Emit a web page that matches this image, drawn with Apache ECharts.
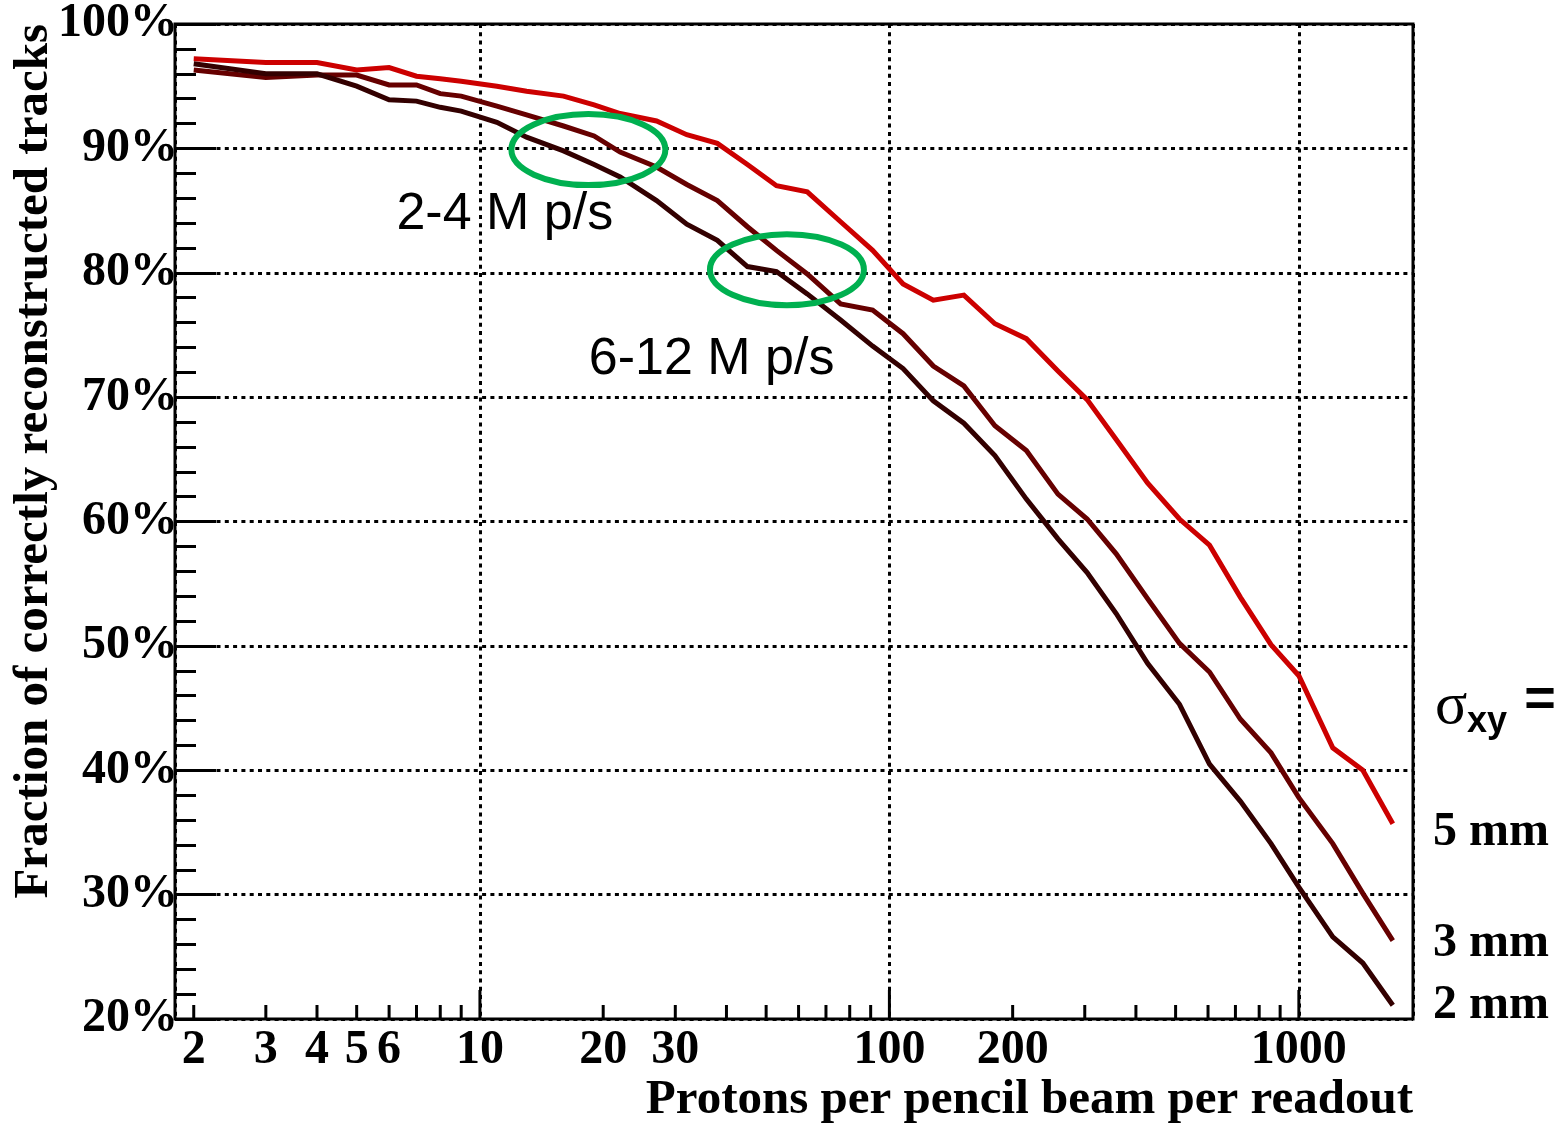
<!DOCTYPE html>
<html>
<head>
<meta charset="utf-8">
<title>Track reconstruction efficiency</title>
<script src="https://cdn.jsdelivr.net/npm/echarts@6/dist/echarts.min.js"></script>
<style>
  html, body { margin: 0; padding: 0; background: #ffffff; }
  #chart { width: 1560px; height: 1126px; }
</style>
</head>
<body>
<div id="chart"></div>
<script>
// Protons per pencil beam per readout (shared x values of all curves)
const protons = [2, 3, 4, 5, 6, 7, 8, 9, 11, 13, 16, 19, 22, 27, 32, 38, 45, 53, 63, 76,
  91, 108, 128, 152, 181, 216, 258, 304, 358, 427, 511, 605, 720, 855, 1000, 1210, 1433, 1696];

// Fraction of correctly reconstructed tracks (%) for each beam spot size
const frac5mm = [97.2, 96.9, 96.9, 96.3, 96.5, 95.8, 95.6, 95.4, 95.0, 94.6, 94.2, 93.5, 92.8, 92.2,
  91.1, 90.4, 88.7, 87.0, 86.5, 84.1, 81.8, 79.1, 77.8, 78.2, 75.9, 74.7, 72.1, 69.8, 66.6, 63.1,
  60.2, 58.1, 53.9, 50.1, 47.6, 41.8, 40.0, 35.7];
const frac3mm = [96.3, 95.7, 95.9, 95.9, 95.1, 95.1, 94.4, 94.2, 93.4, 92.7, 91.8, 91.0, 89.7, 88.5,
  87.1, 85.8, 83.7, 81.8, 79.9, 77.5, 77.0, 75.1, 72.5, 70.9, 67.7, 65.7, 62.2, 60.2, 57.4, 53.8,
  50.2, 47.9, 44.1, 41.4, 37.8, 34.1, 30.1, 26.3];
const frac2mm = [96.8, 96.0, 96.0, 95.0, 93.9, 93.8, 93.3, 93.0, 92.1, 90.9, 89.8, 88.7, 87.7, 85.8,
  83.9, 82.6, 80.5, 80.1, 78.3, 76.2, 74.1, 72.3, 69.7, 67.9, 65.3, 61.8, 58.6, 55.9, 52.6, 48.6,
  45.3, 40.5, 37.5, 34.1, 30.6, 26.6, 24.5, 21.1];

// Log-axis tick marks and labels
const xMinorTicks = [2, 3, 4, 5, 6, 7, 8, 9, 20, 30, 40, 50, 60, 70, 80, 90, 200, 300, 400, 500, 600, 700, 800, 900];
const xMajorTicks = [10, 100, 1000];
const xTickLabels = [2, 3, 4, 5, 6, 10, 20, 30, 100, 200, 1000];

// Beam rate annotations: [label, x, y%]
const rateNotes = [['2-4 M p/s', 11.5, 84.7], ['6-12 M p/s', 36.8, 73.0]];
// Highlighted working points: [x, y%]
const rateMarks = [[18.4, 89.9], [56.2, 80.25]];

// Spot size labels next to the curve ends: [label, y%]
const sizeLabels = [['5 mm', 34.95], ['3 mm', 26.1], ['2 mm', 21.1]];
const sizeColors = ['#cc0000', '#660000', '#330000'];

const SERIF = '"Liberation Serif", "Times New Roman", serif';
const SANS = '"Liberation Sans", Arial, sans-serif';
const dotted = { color: '#000', width: 3, type: [4, 4.3] };

const chart = echarts.init(document.getElementById('chart'), null, { renderer: 'canvas' });

const pairs = arr => protons.map((x, i) => [x, arr[i]]);

chart.setOption({
  animation: false,
  backgroundColor: '#ffffff',
  grid: {
    left: 175, top: 19, right: 147, bottom: 107,
    show: true, borderColor: '#000', borderWidth: 3, backgroundColor: 'transparent'
  },
  xAxis: {
    type: 'log', logBase: 10, min: 1.8, max: 1900,
    axisLine: { show: false },
    axisTick: { show: false },
    axisLabel: { show: false },
    splitLine: { show: true, lineStyle: dotted }
  },
  yAxis: {
    type: 'value', min: 20, max: 100, interval: 10,
    axisLine: { show: false },
    axisTick: { show: true, inside: true, length: 41, lineStyle: { color: '#000', width: 3 } },
    minorTick: { show: true, splitNumber: 5, length: 21, lineStyle: { color: '#000', width: 3 } },
    axisLabel: {
      formatter: '{value}%', fontFamily: SERIF, fontWeight: 'bold', fontSize: 48,
      color: '#000', margin: -3
    },
    splitLine: { show: true, lineStyle: dotted }
  },
  series: [
    { name: '5 mm', type: 'line', data: pairs(frac5mm) },
    { name: '3 mm', type: 'line', data: pairs(frac3mm) },
    { name: '2 mm', type: 'line', data: pairs(frac2mm) }
  ].map((s, i) => Object.assign(s, {
    showSymbol: false, symbol: 'none', clip: true,
    lineStyle: { color: sizeColors[i], width: 5, join: 'miter' },
    itemStyle: { color: sizeColors[i] }
  }))
});

// Ticks, tick labels, titles and annotations placed through the axis scales
const px = v => chart.convertToPixel({ xAxisIndex: 0 }, v);
const py = v => chart.convertToPixel({ yAxisIndex: 0 }, v);
const yBase = py(20), yTop = py(100);
const xRight = px(1900);
const g = [];

xMinorTicks.forEach(v => g.push({
  type: 'line', z: 50, silent: true,
  shape: { x1: px(v), y1: yBase, x2: px(v), y2: yBase - 14 },
  style: { stroke: '#000', lineWidth: 3 }
}));
xMajorTicks.forEach(v => g.push({
  type: 'line', z: 50, silent: true,
  shape: { x1: px(v), y1: yBase, x2: px(v), y2: yBase - 29 },
  style: { stroke: '#000', lineWidth: 3 }
}));
xTickLabels.forEach(v => g.push({
  type: 'text', z: 50, silent: true,
  x: px(v), y: yBase + 32,
  style: {
    text: String(v), font: 'bold 48px ' + SERIF, fill: '#000',
    align: 'center', verticalAlign: 'middle'
  }
}));

// Axis titles
g.push({
  type: 'text', z: 50, silent: true,
  x: xRight, y: yBase + 81,
  style: {
    text: 'Protons per pencil beam per readout', font: 'bold 49px ' + SERIF,
    fill: '#000', align: 'right', verticalAlign: 'middle'
  }
});
g.push({
  type: 'text', z: 50, silent: true,
  x: 34, y: yTop, rotation: Math.PI / 2,
  style: {
    text: 'Fraction of correctly reconstructed tracks', font: 'bold 49px ' + SERIF,
    fill: '#000', align: 'right', verticalAlign: 'middle'
  }
});

// Rate annotations and highlight ellipses
rateNotes.forEach(([t, x, y]) => g.push({
  type: 'text', z: 60, silent: true,
  x: px(x), y: py(y),
  style: { text: t, font: '52px ' + SANS, fill: '#000', align: 'center', verticalAlign: 'middle' }
}));
rateMarks.forEach(([x, y]) => g.push({
  type: 'ellipse', z: 60, silent: true,
  shape: { cx: px(x), cy: py(y), rx: 77, ry: 35.5 },
  style: { fill: 'none', stroke: '#00b050', lineWidth: 6 }
}));

// Spot size key at the right
const keyX = xRight + 20;
g.push({
  type: 'text', z: 50, silent: true, x: keyX + 2, y: py(45.1),
  style: { text: 'σ', font: '60px ' + SERIF, fill: '#000', align: 'left', verticalAlign: 'middle' }
});
g.push({
  type: 'text', z: 50, silent: true, x: keyX + 34, y: py(43.9),
  style: { text: 'xy', font: 'bold 36px ' + SANS, fill: '#000', align: 'left', verticalAlign: 'middle' }
});
g.push({
  type: 'text', z: 50, silent: true, x: keyX + 107, y: py(45.55),
  style: { text: '=', font: 'bold 54px ' + SANS, fill: '#000', align: 'center', verticalAlign: 'middle' }
});
sizeLabels.forEach(([t, y]) => g.push({
  type: 'text', z: 50, silent: true, x: keyX, y: py(y),
  style: { text: t, font: 'bold 48px ' + SERIF, fill: '#000', align: 'left', verticalAlign: 'middle' }
}));

chart.setOption({ graphic: g });
</script>
</body>
</html>
